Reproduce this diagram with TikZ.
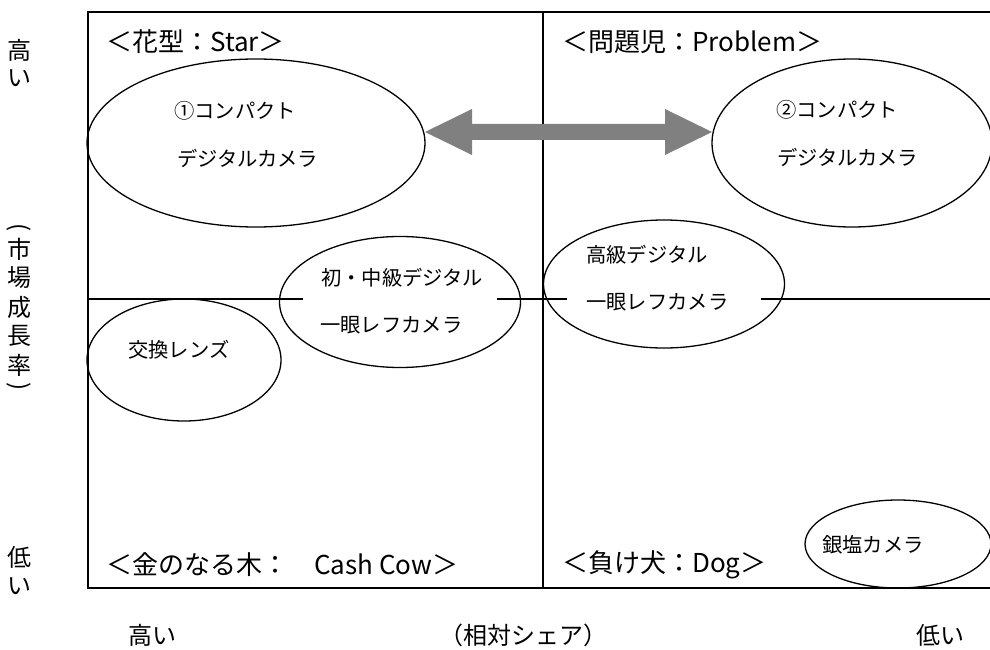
\documentclass[tikz,border=0pt]{standalone}
\usepackage{fontspec}
\setmainfont{Noto Sans CJK JP}
\usetikzlibrary{shapes.geometric,calc}
\begin{document}
\begin{tikzpicture}[x=1pt,y=-1pt,
  frame/.style={line width=1.5pt},
  oval/.style={draw, ellipse, line width=1.3pt, inner sep=0pt},
  lbl/.style={font=\fontsize{20.3}{20.3}\selectfont, anchor=west, inner sep=0pt},
  head/.style={font=\fontsize{26}{26}\selectfont, anchor=west, inner sep=0pt},
  axis/.style={font=\fontsize{24}{24}\selectfont, inner sep=0pt},
  bigarrow/.style={fill=black!50, draw=none}]
\useasboundingbox (0,0) rectangle (990,650);
\clip (0,0) rectangle (990,650);
\fill[white] (0,0) rectangle (990,650);
% frame and dividers
\draw[frame] (992,12) -- (88,12) -- (88,588) -- (992,588);
\draw[frame] (543,12) -- (543,588);
\draw[frame] (88,299) -- (303,299);
\draw[frame] (497,299) -- (567,299);
\draw[frame] (761,299) -- (992,299);
% ellipses
\node[oval, minimum width=338pt, minimum height=168pt] (c1) at (256,143) {};
\node[oval, minimum width=280pt, minimum height=168pt] (c2) at (852,143) {};
\node[oval, minimum width=241pt, minimum height=131pt] (c3) at (400,302) {};
\node[oval, minimum width=241pt, minimum height=128pt] (c4) at (664,284) {};
\node[oval, minimum width=194pt, minimum height=122pt] (c5) at (184,360) {};
\node[oval, minimum width=186pt, minimum height=88pt] (c6) at (898,544) {};
% double arrow between c1 and c2
\coordinate (aL) at (425,132);
\coordinate (aR) at (712,132);
\path[bigarrow] (aL) -- ($(aL)+(47,-23)$) -- ($(aL)+(47,-8)$) -- ($(aR)+(-47,-8)$)
  -- ($(aR)+(-47,-23)$) -- (aR) -- ($(aR)+(-47,23)$) -- ($(aR)+(-47,8)$)
  -- ($(aL)+(47,8)$) -- ($(aL)+(47,23)$) -- cycle;
% quadrant headings
\node[head] (h1) at (106,42) {＜花型：Star＞};
\node[head] (h2) at (562,42) {＜問題児：Problem＞};
\node[head] (h3) at (106,565) {＜金のなる木：　Cash Cow＞};
\node[head] (h4) at (562,565) {＜負け犬：Dog＞};
% ellipse labels
\node[lbl] (t1a) at (174,111) {①コンパクト};
\node[lbl] (t1b) at (177,158) {デジタルカメラ};
\node[lbl] (t2a) at (776,110) {②コンパクト};
\node[lbl] (t2b) at (777,157) {デジタルカメラ};
\node[lbl] (t3a) at (321,278) {初・中級デジタル};
\node[lbl] (t3b) at (320,325) {一眼レフカメラ};
\node[lbl] (t4a) at (586,255) {高級デジタル};
\node[lbl] (t4b) at (586,302) {一眼レフカメラ};
\node[lbl] (t5) at (128,350) {交換レンズ};
\node[lbl] (t6) at (822,545) {銀塩カメラ};
% vertical axis labels
\node[axis] (vh1) at (19,50) {高};
\node[axis] (vh2) at (19,78) {い};
\node[axis, rotate=-90] (vm0) at (19,228) {(};
\node[axis] (vm1) at (19,249) {市};
\node[axis] (vm2) at (19,278) {場};
\node[axis] (vm3) at (19,307) {成};
\node[axis] (vm4) at (19,336) {長};
\node[axis] (vm5) at (19,365) {率};
\node[axis, rotate=-90] (vm6) at (19,387) {)};
\node[axis] (vl1) at (19,557) {低};
\node[axis] (vl2) at (19,586) {い};
% horizontal axis labels
\node[axis] (xh) at (152,635) {高い};
\node[axis] (xm) at (523,635) {（相対シェア）};
\node[axis] (xl) at (940,635) {低い};
\end{tikzpicture}
\end{document}
